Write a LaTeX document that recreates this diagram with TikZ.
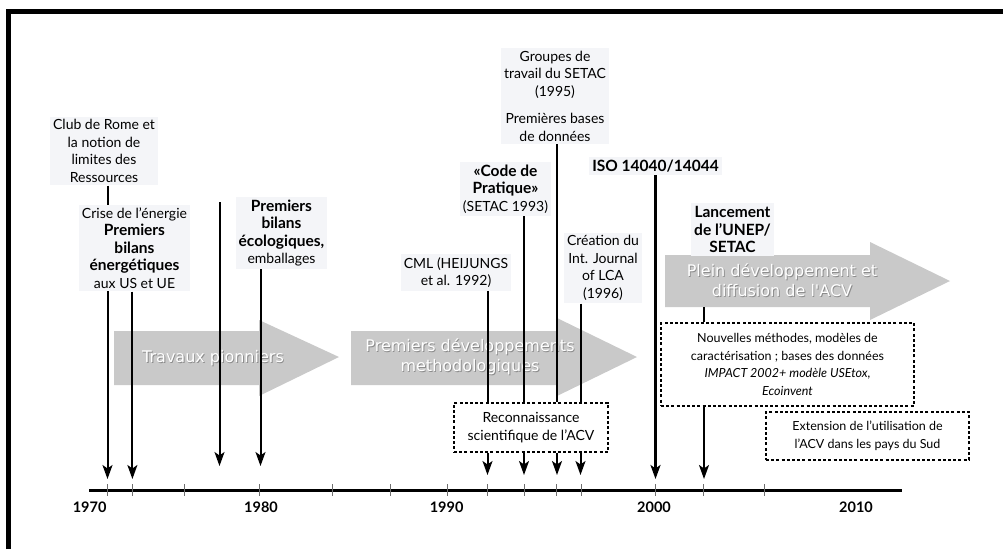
\documentclass[tikz,border=0pt]{standalone}
\usepackage{fontspec}
\setmainfont{Lato}
\newfontfamily\bandfont{DejaVu Sans}
\usetikzlibrary{arrows.meta}

\definecolor{boxbg}{RGB}{244,245,248}
\definecolor{bandgrey}{RGB}{201,201,201}
\definecolor{tickgrey}{RGB}{110,110,110}

% heavier, slightly larger weight for emphasised label lines
\newcommand{\hd}[1]{{\fontsize{15.5}{17.5}\selectfont\bfseries #1}}

\begin{document}
\begin{tikzpicture}[x=1pt,y=-1pt,
  lab/.style={font=\fontsize{14}{17.5}\selectfont, align=center, fill=boxbg, inner sep=3pt},
  dbox/.style={draw, line width=1.7pt, dash pattern=on 3pt off 2.2pt, fill=white,
    font=\fontsize{12.5}{17.5}\selectfont, align=center, inner sep=2pt},
  evline/.style={line width=2pt, black},
  evarrow/.style={evline, -{Stealth[width=10pt,length=14pt,inset=3.5pt]}},
  band/.style={fill=bandgrey, draw=none},
  bandtext/.style={font=\bandfont\fontsize{16}{20}\selectfont, align=center, inner sep=0pt},
  year/.style={font=\bfseries\fontsize{14.5}{16}\selectfont, inner sep=0pt}
]
\useasboundingbox (0,0) rectangle (1003,549);

% frame
\draw[line width=4.5pt] (8.5,549) -- (8.5,11.5) -- (1003,11.5);

% period bands
\fill[band] (114,331) -- (259,331) -- (259,320) -- (339,357) -- (259,396) -- (259,385) -- (114,385) -- cycle;
\fill[band] (351,331) -- (557,331) -- (557,318) -- (637,357) -- (557,396) -- (557,385) -- (351,385) -- cycle;
\fill[band] (665,255) -- (870,255) -- (870,242) -- (950,281) -- (870,320) -- (870,307) -- (665,307) -- cycle;

\foreach \cx/\cy/\txt [count=\i] in {213/358/{Travaux pionniers},
    470/357/{Premiers développements\\methodologiques},
    782/280/{Plein développement et\\diffusion de l'ACV}}{
  \node[bandtext, text=black!45] at (\cx+0.9,\cy+0.9) {\txt};
  \node[bandtext, text=white] (band\i) at (\cx,\cy) {\txt};
}

% event labels
\node[lab] (club) at (104,151) {Club de Rome et\\la notion de\\limites des\\Ressources};
\node[lab] (ecol) at (281.5,233) {\hd{Premiers}\\\hd{bilans}\\\hd{écologiques,}\\emballages};
\node[lab] (cml) at (456,272.5) {CML (HEIJUNGS\\et al. 1992)};
\node[lab] (code) at (505.5,189) {\hd{«Code de}\\\hd{Pratique»}\\(SETAC 1993)};
\node[lab] (groupes) at (555,96) {Groupes de\\travail du SETAC\\(1995)\\[10pt]Premières bases\\de données};
\node[lab] (creation) at (603,268) {Création du\\Int. Journal\\of LCA\\(1996)};
\node[lab] (iso) at (655.5,166) {\hd{ISO 14040/14044}};
\node[lab] (lanc) at (732.5,229.5) {\hd{Lancement}\\\hd{de l'UNEP/}\\\hd{SETAC}};

\node[dbox, font=\fontsize{14}{17.5}\selectfont, minimum width=154pt, minimum height=49pt] (reco) at (531,427.5) {Reconnaissance\\scientifique de l'ACV};
\node[dbox, minimum width=253pt, minimum height=83pt] (nouv) at (787.5,364.5)
  {Nouvelles méthodes, modèles de\\caractérisation ; bases des données\\\textit{IMPACT 2002+ modèle USEtox,}\\\textit{Ecoinvent}};
\node[dbox, minimum width=203pt, minimum height=47.5pt] (ext) at (867.5,436)
  {Extension de l'utilisation de\\l'ACV dans les pays du Sud};

% arrow tips on the time axis and free line ends
\coordinate (tA) at (107.5,479);
\coordinate (tB) at (132.4,479);
\coordinate (tC) at (219.5,466);
\coordinate (tD) at (260.5,466);
\coordinate (tE) at (487.5,475);
\coordinate (tF) at (524,475);
\coordinate (tG) at (557,475);
\coordinate (tH) at (580.5,475);
\coordinate (tI) at (655.5,479);
\coordinate (tJ) at (704,479);
\coordinate (sC) at (219.5,202);
\coordinate (a3) at (704,307);

% Club de Rome line runs behind the energy-crisis label
\draw[evarrow] (club.south -| tA) -- (tA);
\node[lab] (crise) at (134.5,248) {Crise de l'énergie\\\hd{Premiers}\\\hd{bilans}\\\hd{énergétiques}\\aux US et UE};
\draw[evarrow] (crise.south -| tB) -- (tB);
\draw[evarrow] (sC) -- (tC);
\draw[evarrow] (ecol.south -| tD) -- (tD);

\draw[evline] (cml.south -| tE) -- (reco.north -| tE);
\draw[evline] (code.south -| tF) -- (reco.north -| tF);
\draw[evline, line width=2.3pt] (groupes.south -| tG) -- (reco.north -| tG);
\draw[evline] (creation.south -| tH) -- (reco.north -| tH);
\foreach \t in {tE,tF,tG,tH}
  \draw[evarrow] (reco.south -| \t) -- (\t);

\draw[evarrow, line width=2.5pt] (iso.south -| tI) -- (tI);
\draw[evline] (a3) -- (nouv.north -| a3);
\draw[evarrow] (nouv.south -| tJ) -- (tJ);

% time axis
\draw[line width=3pt] (89,490) coordinate (ax0) -- (902,490) coordinate (ax1);
\foreach \x in {107.5,132.4,184.3,259.1,332.7,390.3,447.9,487.5,524.6,556.6,581,655.8,703.8,764.5}
  \draw[tickgrey, line width=1pt] (\x,484) -- (\x,496);
\node[year] (y1970) at (89.6,507.5) {1970};
\node[year] (y1980) at (261,507.5) {1980};
\node[year] (y1990) at (446.6,507.5) {1990};
\node[year] (y2000) at (654,507.5) {2000};
\node[year] (y2010) at (856,507.5) {2010};
\end{tikzpicture}
\end{document}
